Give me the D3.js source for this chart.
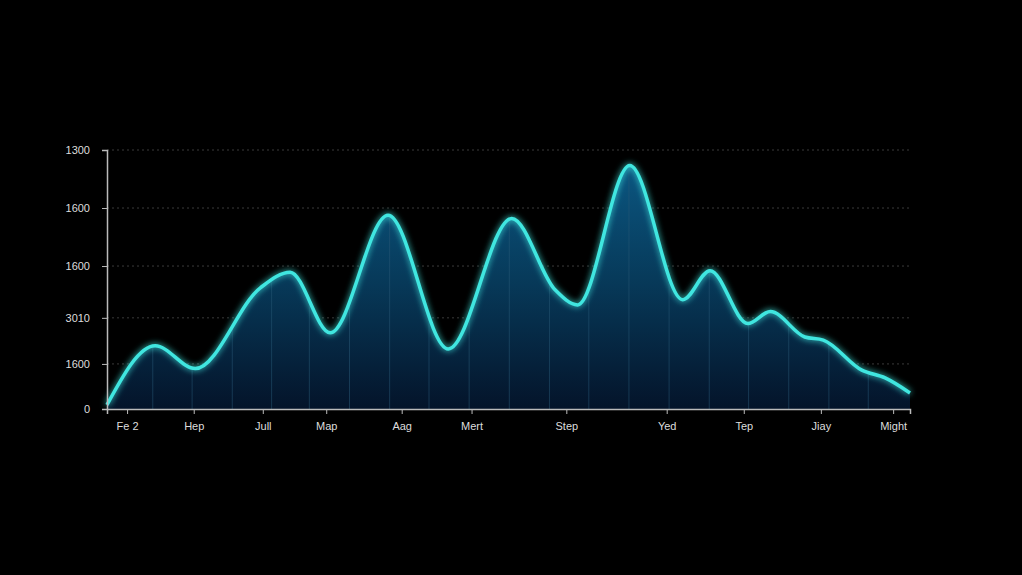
<!DOCTYPE html>
<html>
<head>
<meta charset="utf-8">
<script src="https://cdn.jsdelivr.net/npm/d3@7"></script>
<style>
  body { margin: 0; background: #000; }
  svg { display: block; }
</style>
</head>
<body>
<div id="chart"></div>
<script>
// DATA ___________________________________________________________
// x positions on a 0..100 track, y values in axis units
const CURVE_X = [0, 6, 11, 19.1, 22.8, 27.8, 35, 42.5, 50.4, 55.8, 58.6, 65.1, 71.7, 75.1, 79.8, 82.6, 86.9, 89.2, 94, 96.9, 100];
const CURVE_Y = [40, 610, 390, 1170, 1320, 735, 1870, 580, 1840, 1150, 1005, 2350, 1055, 1335, 825, 940, 695, 665, 375, 300, 155];

const X_TICK_POS = [2.5, 10.8, 19.4, 27.3, 36.7, 45.4, 57.2, 69.7, 79.3, 88.9, 97.9];
const X_TICK_LABELS = ['Fe 2', 'Hep', 'Jull', 'Map', 'Aag', 'Mert', 'Step', 'Yed', 'Tep', 'Jiay', 'Might'];

const Y_TICK_VALUES = [0, 435, 880, 1380, 1940, 2500];
const Y_TICK_LABELS = ['0', '1600', '3010', '1600', '1600', '1300'];

const V_GRID = [5.7, 10.6, 15.6, 20.5, 25.2, 30.2, 35.2, 40.1, 45.1, 50.1, 55.1, 60, 65, 70, 75, 79.9, 84.9, 89.9, 94.8];
//________________________________________________________________

const W = 1022, H = 575;
const X0 = 107, X1 = 910, Y0 = 409, Y1 = 150;

const svg = d3.select('#chart').append('svg').attr('width', W).attr('height', H);

const x = d3.scaleLinear().domain([0, 100]).range([X0, X1]);
const y = d3.scaleLinear().domain([0, 2500]).range([Y0, Y1]);

const defs = svg.append('defs');
const grad = defs.append('linearGradient').attr('id', 'fillGrad')
    .attr('x1', 0).attr('y1', 0).attr('x2', 0).attr('y2', 1)
    .attr('gradientUnits', 'userSpaceOnUse')
    .attr('x1', 0).attr('y1', Y1).attr('x2', 0).attr('y2', Y0);
grad.append('stop').attr('offset', '0%').attr('stop-color', '#0b5a86');
grad.append('stop').attr('offset', '50%').attr('stop-color', '#073a5a');
grad.append('stop').attr('offset', '100%').attr('stop-color', '#04142a');

const glow = defs.append('filter').attr('id', 'glow')
    .attr('x', '-10%').attr('y', '-10%').attr('width', '120%').attr('height', '120%');
glow.append('feGaussianBlur').attr('stdDeviation', 3).attr('result', 'b');
const fm = glow.append('feMerge');
fm.append('feMergeNode').attr('in', 'b');
fm.append('feMergeNode').attr('in', 'SourceGraphic');

const points = CURVE_X.map((d, i) => [d, CURVE_Y[i]]);

// horizontal dashed grid
svg.selectAll('.hgrid').data(Y_TICK_VALUES.slice(1)).enter().append('line')
    .attr('x1', X0).attr('x2', X1)
    .attr('y1', d => y(d)).attr('y2', d => y(d))
    .attr('stroke', '#3a3a3a').attr('stroke-dasharray', '2,3').attr('stroke-width', 1);

// area
const area = d3.area().curve(d3.curveMonotoneX)
    .x(d => x(d[0])).y0(Y0).y1(d => y(d[1]));
svg.append('path').datum(points).attr('d', area).attr('fill', 'url(#fillGrad)');

// vertical faint lines clipped to area
defs.append('clipPath').attr('id', 'areaClip').append('path').datum(points).attr('d', area);
svg.append('g').attr('clip-path', 'url(#areaClip)')
    .selectAll('line').data(V_GRID).enter().append('line')
    .attr('x1', d => x(d)).attr('x2', d => x(d)).attr('y1', Y1).attr('y2', Y0)
    .attr('stroke', '#2a5a78').attr('stroke-opacity', 0.5).attr('stroke-width', 1);

// line
const line = d3.line().curve(d3.curveMonotoneX).x(d => x(d[0])).y(d => y(d[1]));
svg.append('path').datum(points).attr('d', line)
    .attr('fill', 'none').attr('stroke', '#3fe6e0').attr('stroke-width', 3.5)
    .attr('filter', 'url(#glow)');

// axes
const xAxis = svg.append('g').attr('transform', `translate(0,${Y0})`)
    .call(d3.axisBottom(x).tickValues(X_TICK_POS).tickFormat((d, i) => X_TICK_LABELS[i]).tickSize(5).tickPadding(8));
const yAxis = svg.append('g').attr('transform', `translate(${X0},0)`)
    .call(d3.axisLeft(y).tickValues(Y_TICK_VALUES).tickFormat((d, i) => Y_TICK_LABELS[i]).tickSize(5).tickPadding(12));

svg.selectAll('.domain').attr('stroke', '#bbb').attr('stroke-width', 1.5);
svg.selectAll('.tick line').attr('stroke', '#bbb');
svg.selectAll('.tick text').attr('fill', '#ddd')
    .style('font-family', 'Liberation Sans, Arial, sans-serif').style('font-size', '11px');
</script>
</body>
</html>
